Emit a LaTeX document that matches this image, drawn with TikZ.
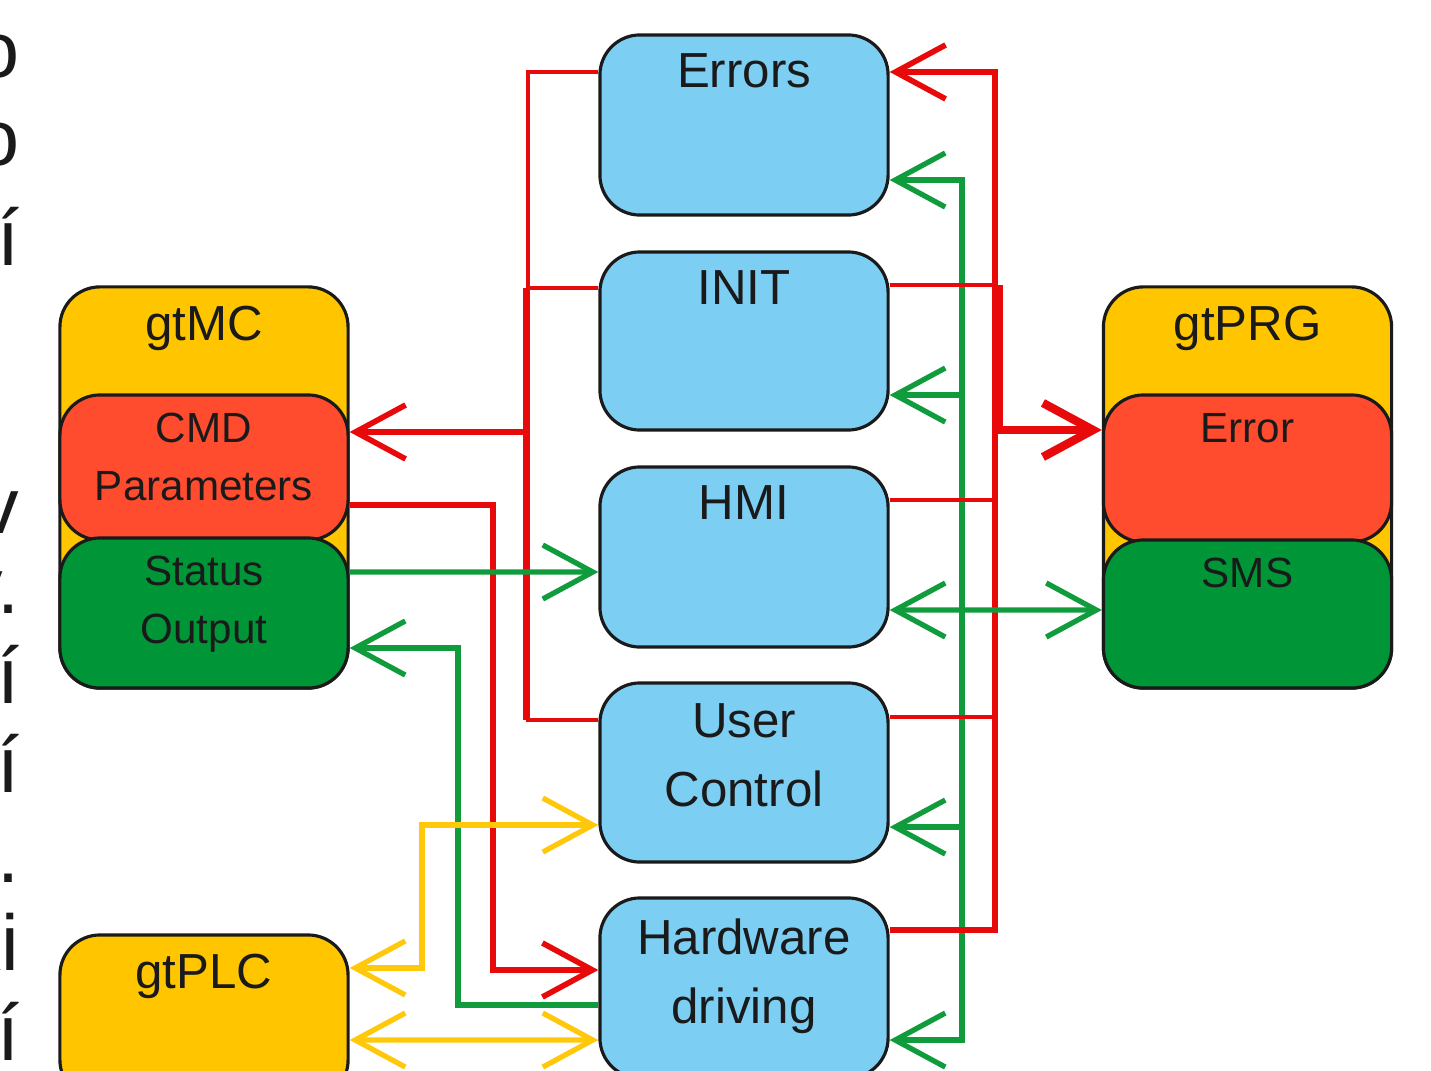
\documentclass[tikz,border=0pt]{standalone}
\usepackage{fontspec}
\setmainfont{Liberation Sans}
\usetikzlibrary{arrows.meta,positioning}
\definecolor{boxblue}{RGB}{125,206,243}
\definecolor{boxyellow}{RGB}{255,198,0}
\definecolor{boxred}{RGB}{255,76,46}
\definecolor{boxgreen}{RGB}{0,150,56}
\definecolor{linered}{RGB}{232,10,10}
\definecolor{linegreen}{RGB}{16,156,60}
\definecolor{lineyellow}{RGB}{255,200,10}
\definecolor{textgray}{RGB}{26,26,26}
\begin{document}
\begin{tikzpicture}[x=0.01cm, y=-0.01cm,
    >={Straight Barb[length=5mm,width=5.4mm]},
    blk/.style={draw=textgray, line width=0.9pt, rounded corners=0.4cm, minimum width=2.88cm, inner sep=0pt},
    lbl/.style={inner sep=0pt, align=center, text=textgray, font=\fontsize{14}{19.5}\selectfont},
    sublbl/.style={inner sep=0pt, align=center, text=textgray, font=\fontsize{12}{16.4}\selectfont},
    frag/.style={anchor=base east, inner sep=0pt, text=textgray, font=\fontsize{22.5}{27}\selectfont},
    rthin/.style={draw=linered, line width=1.1pt},
    rline/.style={draw=linered, line width=1.6pt},
    rfat/.style={draw=linered, line width=2.4pt},
    gline/.style={draw=linegreen, line width=1.5pt},
    yline/.style={draw=lineyellow, line width=1.5pt}]
  \useasboundingbox (0,0) rectangle (1431,1070);

  % cut-off text of the page on the left
  \node[frag] (f1) at (20,78) {o};
  \node[frag] (f2) at (20,166) {o};
  \node[frag] (f3) at (20,265) {ří};
  \node[frag] (f4) at (20,533) {v};
  \node[frag] (f5) at (20,613) {y.};
  \node[frag] (f6) at (20,703) {í};
  \node[frag] (f7) at (20,792) {í};
  \node[frag] (f8) at (20,882) {.};
  \node[frag] (f9) at (20,970) {xi};
  \node[frag] (f10) at (20,1060) {í};

  % middle column
  \node[blk, fill=boxblue, minimum height=1.8cm] (errors) at (744,125) {};
  \node[blk, fill=boxblue, minimum height=1.78cm] (init) at (744,341) {};
  \node[blk, fill=boxblue, minimum height=1.8cm] (hmi) at (744,557) {};
  \node[blk, fill=boxblue, minimum height=1.79cm] (usr) at (744,772.5) {};
  \node[blk, fill=boxblue, minimum height=1.8cm] (hw) at (744,988) {};
  \node[lbl, below=2mm of errors.north] {Errors};
  \node[lbl, below=2mm of init.north] {INIT};
  \node[lbl, below=2mm of hmi.north] {HMI};
  \node[lbl, below=2.2mm of usr.north] {User\\Control};
  \node[lbl, below=2.2mm of hw.north] {Hardware\\driving};

  % gtMC
  \node[blk, fill=boxyellow, minimum height=4.01cm] (mc) at (204,487.5) {};
  \node[blk, fill=boxred, minimum height=1.45cm] (mccmd) at (204,467.5) {};
  \node[blk, fill=boxgreen, minimum height=1.5cm] (mcstat) at (204,613) {};
  \node[lbl, below=2mm of mc.north] {gtMC};
  \node[sublbl, below=1.9mm of mccmd.north] {CMD\\Parameters};
  \node[sublbl, below=1.9mm of mcstat.north] {Status\\Output};

  % gtPRG
  \node[blk, fill=boxyellow, minimum height=4.01cm] (prg) at (1247.5,487.5) {};
  \node[blk, fill=boxred, minimum height=1.47cm] (prgerr) at (1247.5,468.5) {};
  \node[blk, fill=boxgreen, minimum height=1.48cm] (prgsms) at (1247.5,614) {};
  \node[lbl, below=2mm of prg.north] {gtPRG};
  \node[sublbl, below=1.9mm of prgerr.north] {Error};
  \node[sublbl, below=1.9mm of prgsms.north] {SMS};

  % gtPLC
  \node[blk, fill=boxyellow, minimum height=1.65cm] (plc) at (204,1017.5) {};
  \node[lbl, below=2mm of plc.north] {gtPLC};

  % bends
  \coordinate (lbus) at (528,432);
  \coordinate (cmdbus) at (493,740);
  \coordinate (fbbus) at (458,820);
  \coordinate (plcbus) at (422,900);
  \coordinate (rbus) at (995,500);
  \coordinate (gbus) at (962,600);
  \coordinate (rknee) at (999,285);

  % left side
  \draw[rthin] ([yshift=5.3mm]errors.west) -| (lbus) |- ([yshift=5.25mm]usr.west);
  \draw[rthin] ([yshift=5.3mm]init.west) -- ++(-72,0);
  \draw[rline] ([xshift=-7.2mm,yshift=5.3mm]init.west) -- ([xshift=-7.2mm,yshift=5.25mm]usr.west);
  \draw[rline,->] (lbus) -- ([yshift=3.55mm]mccmd.east);
  \draw[rline,->] ([yshift=-3.75mm]mccmd.east) -| (cmdbus) |- ([yshift=1.8mm]hw.west);
  \draw[gline,->] ([yshift=4.1mm]mcstat.east) -- ([yshift=-1.5mm]hmi.west);
  \draw[gline,->] ([yshift=-1.7mm]hw.west) -| (fbbus) |- ([yshift=-3.5mm]mcstat.east);
  \draw[yline,<->] ([yshift=4.95mm]plc.east) -| (plcbus) |- ([yshift=-5.25mm]usr.west);
  \draw[yline,<->] ([yshift=-2.25mm]plc.east) -- ([yshift=-5.2mm]hw.west);

  % right side
  \draw[gline,<->] ([yshift=-5.5mm]errors.east) -| (gbus) |- ([yshift=-5.2mm]hw.east);
  \draw[gline,<-] ([yshift=-5.4mm]init.east) -- ++(74,0);
  \draw[gline,<-] ([yshift=-5.45mm]usr.east) -- ++(74,0);
  \draw[rline,<-] ([yshift=5.3mm]errors.east) -| (rbus) |- ([yshift=5.8mm]hw.east);
  \draw[rthin] ([yshift=5.6mm]init.east) -- ++(107,0);
  \draw[rthin] ([yshift=5.7mm]hmi.east) -- ++(107,0);
  \draw[rthin] ([yshift=5.55mm]usr.east) -- ++(107,0);
  \draw[rfat,->] (rknee) |- ([yshift=3.85mm]prgerr.west);
  \draw[gline,<->] ([yshift=-5.3mm]hmi.east) -- ([yshift=0.4mm]prgsms.west);
\end{tikzpicture}
\end{document}
